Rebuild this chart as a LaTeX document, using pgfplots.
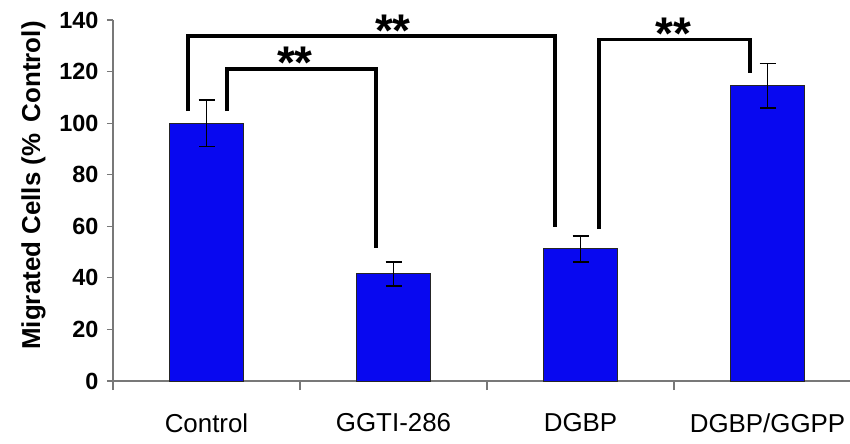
\documentclass[border=0pt]{standalone}
\usepackage{fontspec}
\setmainfont{Liberation Sans}
\usepackage{pgfplots}
\pgfplotsset{compat=1.18}
\definecolor{barblue}{RGB}{8,8,240}
\definecolor{axgray}{RGB}{120,120,120}
\begin{document}
\begin{tikzpicture}
\useasboundingbox (-113bp,-63bp) rectangle (737bp,381bp);
\begin{axis}[
  at={(0,0)}, anchor=south west,
  scale only axis, width=737bp, height=361bp,
  xmin=-0.5, xmax=3.441, ymin=0, ymax=140,
  axis x line=bottom, axis y line=left,
  axis line style={-, draw=axgray, line width=1.2bp},
  ytick={0,20,...,140},
  xtick={0,1,2,3},
  xticklabels={Control,GGTI-286,DGBP,DGBP/GGPP},
  minor xtick={-0.5,0.5,1.5,2.5},
  major x tick style={draw=none},
  minor x tick style={draw=axgray, line width=1.2bp},
  minor tick length=9bp,
  y tick style={draw=axgray, line width=1.2bp},
  major tick length=6bp,
  tick align=outside,
  /pgf/number format/assume math mode=true,
  yticklabel style={font=\fontsize{23.5}{25}\selectfont\bfseries, xshift=-5bp},
  xticklabel style={font=\fontsize{26}{28}\selectfont, yshift=-23bp},
  clip=false,
]
\addplot[ybar, bar width=0.4, fill=barblue, draw=black!85, line width=1bp,
  error bars/.cd, y dir=both, y explicit,
  error bar style={line width=1.4bp, black},
  error mark options={rotate=90, mark size=8bp, line width=1.4bp, black}]
  coordinates {(0,100) +- (0,9) (1,41.5) +- (0,4.6) (2,51.2) +- (0,5) (3,114.5) +- (0,8.6)};
\addplot[black, line width=3.6bp, no marks, line join=miter, line cap=butt]
  coordinates {(-0.10,104.7) (-0.10,133.8) (1.864,133.8) (1.864,59.8)};
\addplot[black, line width=3.6bp, no marks, line join=miter, line cap=butt]
  coordinates {(0.108,104.7) (0.108,120.9) (0.905,120.9) (0.905,51.5)};
\addplot[black, line width=3.6bp, no marks, line join=miter, line cap=butt]
  coordinates {(2.099,58.9) (2.099,132.4) (2.906,132.4) (2.906,119.5)};
\node[anchor=base, inner sep=0pt, font=\fontsize{46}{46}\selectfont\bfseries] at (axis cs:0.997,129.6) {**};
\node[anchor=base, inner sep=0pt, font=\fontsize{46}{46}\selectfont\bfseries] at (axis cs:0.473,117.2) {**};
\node[anchor=base, inner sep=0pt, font=\fontsize{46}{46}\selectfont\bfseries] at (axis cs:2.495,128.4) {**};
\node[rotate=90, anchor=base, inner sep=0pt, font=\fontsize{26}{28}\selectfont\bfseries] at (rel axis cs:-0.099,0.5416) {Migrated Cells (\%\hspace{0.45em}Control)};
\end{axis}
\end{tikzpicture}
\end{document}
